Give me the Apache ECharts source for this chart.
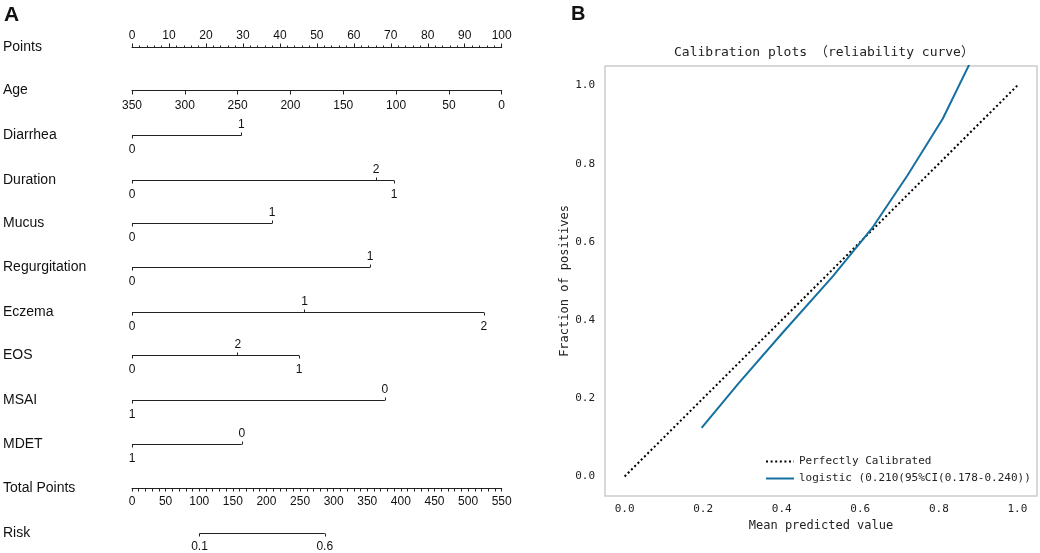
<!DOCTYPE html>
<html>
<head>
<meta charset="utf-8">
<script src="https://cdn.jsdelivr.net/npm/echarts@6/dist/echarts.min.js"></script>
<style>
html,body{margin:0;padding:0;background:#fff}
#main{width:1040px;height:553px}
</style>
</head>
<body>
<div id="main"></div>
<script>
// ---- panel A : nomogram ----
var rowNames = ['Points','Age','Diarrhea','Duration','Mucus','Regurgitation','Eczema','EOS','MSAI','MDET','Total Points','Risk'];
var rowTops = [47, 90, 135, 180, 223, 267, 312, 355, 400, 444, 488, 533];

// level labels and their points, ordered by points
var diarrheaLabels = ['0','1'],      diarrheaPoints = [0, 29.6];
var durationLabels = ['0','2','1'],  durationPoints = [0, 66.0, 70.9];
var mucusLabels = ['0','1'],         mucusPoints = [0, 37.9];
var regurgLabels = ['0','1'],        regurgPoints = [0, 64.4];
var eczemaLabels = ['0','1','2'],    eczemaPoints = [0, 46.7, 95.2];
var eosLabels = ['0','2','1'],       eosPoints = [0, 28.6, 45.2];
var msaiLabels = ['1','0'],          msaiPoints = [0, 68.4];
var mdetLabels = ['1','0'],          mdetPoints = [0, 29.7];

var riskLabels = ['0.1','0.6'],      riskTotalPoints = [100.4, 286.8];

// ---- panel B : calibration ----
var calTicks = [0, 0.2, 0.4, 0.6, 0.8, 1.0];
var perfectX = [0, 1];
var perfectY = [0, 1];
var logisticX = [0.196, 0.29, 0.40, 0.53, 0.63, 0.72, 0.81, 0.90];
var logisticY = [0.124, 0.238, 0.365, 0.512, 0.635, 0.77, 0.915, 1.10];

var chart = echarts.init(document.getElementById('main'));

var ink = '#222';
var sans = 'Liberation Sans, Arial, sans-serif';
var mono = 'DejaVu Sans Mono, Noto Sans CJK SC, monospace';

var grid = [], xAxis = [], yAxis = [], series = [];

function baseX(i, pos, min, max){
    return {
        gridIndex: i, type: 'value', position: pos, min: min, max: max,
        axisLine: {show: false, lineStyle: {color: ink, width: 1}},
        axisTick: {show: true, length: 3, lineStyle: {color: ink, width: 1}},
        axisLabel: {color: '#111', fontSize: 12, fontFamily: sans, margin: 8},
        splitLine: {show: false}
    };
}

function addRow(i){
    // half pixel so the 1px segments come out crisp
    grid.push({left: 131, width: 370.7, top: rowTops[i] + 0.5, height: 0});
    yAxis.push({
        gridIndex: i, type: 'category', data: [rowNames[i]],
        axisLine: {show: false}, axisTick: {show: false},
        axisLabel: {align: 'left', margin: 129, fontSize: 14, color: '#111', fontFamily: sans}
    });
}

function segment(i, xi, x0, x1){
    series.push({
        type: 'line', xAxisIndex: xi, yAxisIndex: i, symbol: 'none', clip: false, silent: true,
        lineStyle: {color: ink, width: 1},
        data: [[x0, 0], [x1, 0]]
    });
}

// Points
addRow(0);
var ax = baseX(0, 'top', 0, 100);
ax.interval = 10;
ax.axisLine.show = true;
ax.axisTick.length = 4;
ax.minorTick = {show: true, splitNumber: 5, length: 2, lineStyle: {color: ink, width: 1}};
ax.axisLabel.margin = 6;
xAxis.push(ax);

// Age
addRow(1);
ax = baseX(1, 'bottom', 0, 350);
ax.interval = 50;
ax.inverse = true;
ax.axisLine.show = true;
ax.axisTick.length = 4;
ax.axisLabel.margin = 9;
xAxis.push(ax);

// categorical rows
var catRows = [
    [diarrheaLabels, diarrheaPoints],
    [durationLabels, durationPoints],
    [mucusLabels, mucusPoints],
    [regurgLabels, regurgPoints],
    [eczemaLabels, eczemaPoints],
    [eosLabels, eosPoints],
    [msaiLabels, msaiPoints],
    [mdetLabels, mdetPoints]
];

catRows.forEach(function(row, k){
    var i = k + 2, labels = row[0], pts = row[1];
    addRow(i);
    var below = pts.filter(function(v, j){ return j % 2 === 0; });
    var above = pts.filter(function(v, j){ return j % 2 === 1; });
    var fmt = function(v){ return labels[pts.indexOf(v)]; };

    var b = baseX(i, 'bottom', 0, 100);
    b.axisTick.customValues = below;
    b.axisLabel.customValues = below;
    b.axisLabel.formatter = fmt;
    b.axisLabel.margin = 8;
    var bi = xAxis.length;
    xAxis.push(b);

    var t = baseX(i, 'top', 0, 100);
    t.axisTick.customValues = above;
    t.axisLabel.customValues = above;
    t.axisLabel.formatter = fmt;
    t.axisLabel.margin = 5;
    xAxis.push(t);

    segment(i, bi, pts[0], Math.max.apply(null, pts));
});

// Total Points
addRow(10);
ax = baseX(10, 'bottom', 0, 550);
ax.interval = 50;
ax.axisLine.show = true;
ax.axisTick.length = 3;
ax.minorTick = {show: true, splitNumber: 5, length: 3, lineStyle: {color: ink, width: 1}};
ax.axisLabel.margin = 7;
xAxis.push(ax);

// Risk
addRow(11);
ax = baseX(11, 'bottom', 0, 550);
ax.axisTick.customValues = riskTotalPoints;
ax.axisLabel.customValues = riskTotalPoints;
ax.axisLabel.formatter = function(v){ return riskLabels[riskTotalPoints.indexOf(v)]; };
ax.axisLabel.margin = 7;
var riskAxis = xAxis.length;
xAxis.push(ax);
segment(11, riskAxis, riskTotalPoints[0], riskTotalPoints[riskTotalPoints.length - 1]);

// calibration panel
var cg = grid.length;
grid.push({left: 605, right: 3, top: 66, bottom: 57, show: true, borderColor: '#cccccc', borderWidth: 1.5});
var calX = xAxis.length, calY = yAxis.length;
xAxis.push({
    gridIndex: cg, type: 'value', min: -0.05, max: 1.05,
    axisLine: {show: false}, axisTick: {show: false}, splitLine: {show: false},
    axisLabel: {customValues: calTicks, formatter: function(v){ return v.toFixed(1); },
        fontFamily: mono, fontSize: 11, color: '#222', margin: 8},
    name: 'Mean predicted value', nameLocation: 'middle', nameGap: 24,
    nameTextStyle: {fontFamily: mono, fontSize: 12, color: '#222'}
});
yAxis.push({
    gridIndex: cg, type: 'value', min: -0.05, max: 1.05,
    axisLine: {show: false}, axisTick: {show: false}, splitLine: {show: false},
    axisLabel: {customValues: calTicks, formatter: function(v){ return v.toFixed(1); },
        fontFamily: mono, fontSize: 11, color: '#222', margin: 10},
    name: 'Fraction of positives', nameLocation: 'middle', nameGap: 29,
    nameTextStyle: {fontFamily: mono, fontSize: 12, color: '#222'}
});

series.push({
    name: 'Perfectly Calibrated', type: 'line', xAxisIndex: calX, yAxisIndex: calY,
    symbol: 'none', silent: true,
    itemStyle: {color: '#000'},
    lineStyle: {color: '#000', width: 2, type: [2, 2.6]},
    data: perfectX.map(function(x, j){ return [x, perfectY[j]]; })
});
series.push({
    name: 'logistic (0.210(95%CI(0.178-0.240))', type: 'line', xAxisIndex: calX, yAxisIndex: calY,
    symbol: 'none', silent: true, clip: true,
    itemStyle: {color: '#1670a0'},
    lineStyle: {color: '#1670a0', width: 2},
    data: logisticX.map(function(x, j){ return [x, logisticY[j]]; })
});

var option = {
    backgroundColor: '#fff',
    animation: false,
    title: [
        {text: 'A', left: 4, top: 5, padding: 0, textStyle: {fontSize: 21, fontWeight: 'bold', color: '#111', fontFamily: sans}},
        {text: 'B', left: 571, top: 4, padding: 0, textStyle: {fontSize: 20, fontWeight: 'bold', color: '#111', fontFamily: sans}},
        {text: 'Calibration plots （reliability curve）', left: 674, top: 46, padding: 0,
            textStyle: {fontSize: 13, fontWeight: 'normal', color: '#222', fontFamily: mono}}
    ],
    legend: {
        orient: 'vertical', left: 760, top: 451, itemWidth: 28, itemHeight: 12, itemGap: 6,
        itemStyle: {opacity: 0},
        textStyle: {fontFamily: mono, fontSize: 11, color: '#222'},
        data: ['Perfectly Calibrated', 'logistic (0.210(95%CI(0.178-0.240))']
    },
    grid: grid,
    xAxis: xAxis,
    yAxis: yAxis,
    series: series
};

chart.setOption(option);
</script>
</body>
</html>
